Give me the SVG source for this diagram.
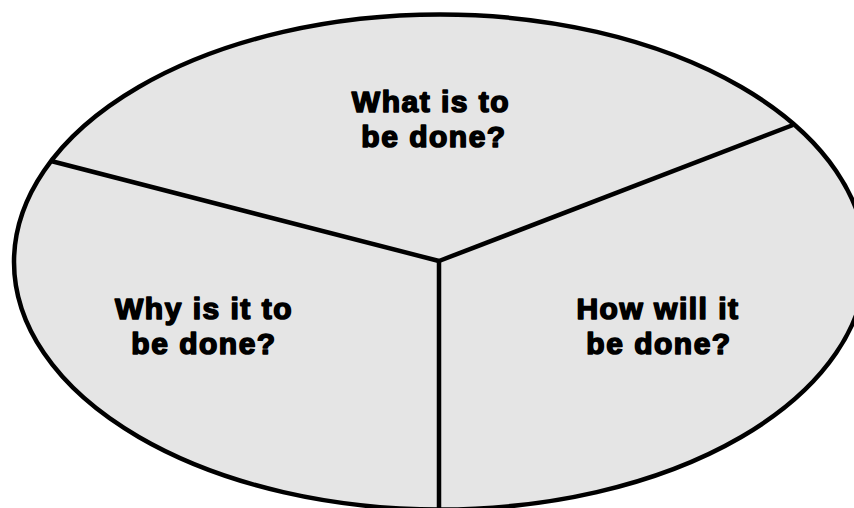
<svg xmlns="http://www.w3.org/2000/svg" width="854" height="508" viewBox="0 0 854 508">
<style>
.t{font-family:"Liberation Sans",Arial,sans-serif;font-weight:bold;font-size:30px;fill:#000;stroke:#000;stroke-width:1.6;stroke-linejoin:round;letter-spacing:1.5px;text-anchor:middle}
.ln{stroke:#000;stroke-width:4.5;fill:none;stroke-linecap:butt}
</style>
<rect width="854" height="508" fill="#fff"/>
<g id="circle">
<ellipse cx="440" cy="262" rx="426" ry="247.5" fill="#e5e5e5" stroke="#000" stroke-width="4.5"/>
</g>
<g id="connectors">
<line class="ln" x1="51" y1="161" x2="439" y2="261"/>
<line class="ln" x1="793" y1="125" x2="439" y2="261"/>
<line class="ln" x1="439" y1="259" x2="439" y2="508"/>
</g>
<g id="what">
<text class="t" x="431" y="112">What is to</text>
<text class="t" x="434" y="147">be done?</text>
</g>
<g id="why">
<text class="t" x="204" y="319">Why is it to</text>
<text class="t" x="204" y="354">be done?</text>
</g>
<g id="how">
<text class="t" x="658" y="319">How will it</text>
<text class="t" x="659" y="354">be done?</text>
</g>
</svg>
